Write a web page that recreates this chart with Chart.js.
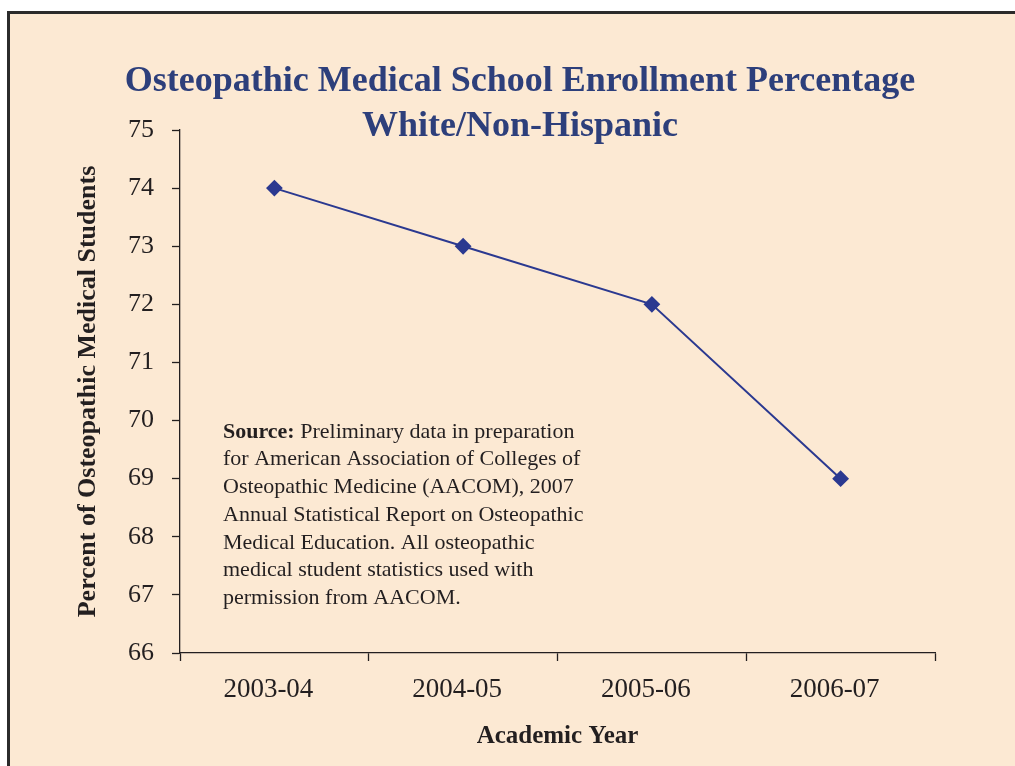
<!DOCTYPE html>
<html>
<head>
<meta charset="utf-8">
<script src="https://cdn.jsdelivr.net/npm/chart.js@4/dist/chart.umd.min.js"></script>
<style>
  html, body { margin: 0; padding: 0; background: #ffffff; }
  #wrap { width: 1015px; height: 766px; position: relative; }
</style>
</head>
<body>
<div id="wrap"><canvas id="c" width="1015" height="766"></canvas></div>
<script>
const categories = ["2003-04", "2004-05", "2005-06", "2006-07"];
const whiteNonHispanic = [74, 73, 72, 69];
const yTicks = [66, 67, 68, 69, 70, 71, 72, 73, 74, 75];
const titleLines = ["Osteopathic Medical School Enrollment Percentage", "White/Non-Hispanic"];
const yTitle = "Percent of Osteopathic Medical Students";
const xTitle = "Academic Year";
const sourceLabel = "Source:";
const sourceLines = [
  " Preliminary data in preparation",
  "for American Association of Colleges of",
  "Osteopathic Medicine (AACOM), 2007",
  "Annual Statistical Report on Osteopathic",
  "Medical Education. All osteopathic",
  "medical student statistics used with",
  "permission from AACOM."
];

const SERIF = "'Liberation Serif', 'DejaVu Serif', serif";
const BG = "#FCE9D3";
const INK = "#231F20";
const NAVY = "#2B3990";
const TITLE_BLUE = "#2D3F7B";

const frame = {
  id: 'frame',
  beforeDraw(chart) {
    const ctx = chart.ctx;
    ctx.save();
    ctx.fillStyle = '#ffffff';
    ctx.fillRect(0, 0, chart.width, chart.height);
    ctx.fillStyle = BG;
    ctx.fillRect(9, 12, chart.width - 9, chart.height - 12);
    ctx.fillStyle = '#2b2b2b';
    ctx.fillRect(7, 11, chart.width - 7, 3);
    ctx.fillRect(7, 11, 3, chart.height - 11);
    ctx.restore();
  },
  afterDraw(chart) {
    const ctx = chart.ctx;
    ctx.save();
    // Title
    ctx.fillStyle = TITLE_BLUE;
    ctx.font = "bold 36px " + SERIF;
    ctx.textAlign = 'center';
    ctx.textBaseline = 'middle';
    ctx.fillText(titleLines[0], 520, 82);
    ctx.fillText(titleLines[1], 520, 127);
    // Source note
    ctx.fillStyle = INK;
    ctx.textAlign = 'left';
    ctx.textBaseline = 'middle';
    const x0 = 223, y0 = 432, lh = 27.7;
    ctx.font = "bold 22px " + SERIF;
    ctx.fillText(sourceLabel, x0, y0);
    const w = ctx.measureText(sourceLabel).width;
    ctx.font = "22px " + SERIF;
    ctx.fillText(sourceLines[0], x0 + w, y0);
    for (let i = 1; i < sourceLines.length; i++) {
      ctx.fillText(sourceLines[i], x0, y0 + i * lh);
    }
    ctx.restore();
  }
};

new Chart(document.getElementById('c'), {
  type: 'line',
  data: {
    labels: categories,
    datasets: [{
      data: whiteNonHispanic,
      borderColor: NAVY,
      backgroundColor: NAVY,
      borderWidth: 2,
      pointStyle: 'rectRot',
      pointRadius: 7,
      pointHoverRadius: 7,
      tension: 0,
      fill: false
    }]
  },
  options: {
    responsive: false,
    animation: false,
    devicePixelRatio: 1,
    layout: { padding: { left: 75, right: 80, top: 130, bottom: 0 } },
    plugins: {
      legend: { display: false },
      title: { display: false },
      tooltip: { enabled: false }
    },
    scales: {
      x: {
        offset: true,
        afterFit(s) { s.height = 113; },
        grid: {
          offset: true,
          drawOnChartArea: false,
          drawTicks: true,
          tickLength: 8,
          color: INK,
          tickWidth: 1.3
        },
        border: { display: true, color: INK, width: 1.3 },
        ticks: {
          color: INK,
          font: { family: SERIF, size: 27 },
          padding: 13,
          labelOffset: -6,
          maxRotation: 0
        },
        title: {
          display: true,
          text: xTitle,
          color: INK,
          font: { family: SERIF, size: 25, weight: 'bold' },
          padding: { top: 0, bottom: 14 }
        }
      },
      y: {
        min: 66,
        max: 75,
        afterFit(s) { s.width = 105; },
        afterBuildTicks(s) { s.ticks = yTicks.map(v => ({ value: v })); },
        grid: {
          drawOnChartArea: false,
          drawTicks: true,
          tickLength: 8,
          color: INK,
          tickWidth: 1.3
        },
        border: { display: true, color: INK, width: 1.3 },
        ticks: {
          color: INK,
          font: { family: SERIF, size: 26 },
          padding: 18
        },
        title: {
          display: true,
          text: yTitle,
          color: INK,
          font: { family: SERIF, size: 26, weight: 'bold' },
          padding: { top: -2, bottom: 0 }
        }
      }
    }
  },
  plugins: [frame]
});
</script>
</body>
</html>
